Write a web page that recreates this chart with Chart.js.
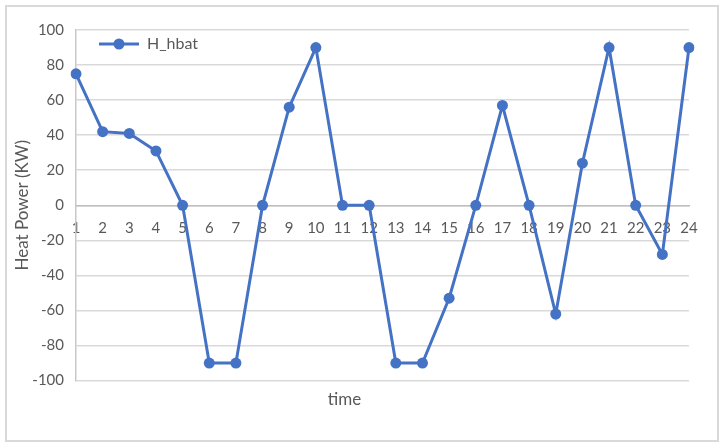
<!DOCTYPE html>
<html>
<head>
<meta charset="utf-8">
<script src="https://cdn.jsdelivr.net/npm/chart.js@4"></script>
<style>
  html, body { margin: 0; padding: 0; background: #fff; }
  #wrap { width: 723px; height: 446px; }
</style>
</head>
<body>
<div id="wrap"><canvas id="myChart" width="723" height="446"></canvas></div>
<script>
const hours = ['1','2','3','4','5','6','7','8','9','10','11','12','13','14','15','16','17','18','19','20','21','22','23','24'];
const hHbat = [75, 42, 41, 31, 0, -90, -90, 0, 56, 90, 0, 0, -90, -90, -53, 0, 57, 0, -62, 24, 90, 0, -28, 90];
const seriesName = 'H_hbat';
const yTitle = 'Heat Power (KW)';
const xTitle = 'time';

const blue = '#4472C4';
const textGray = '#595959';
const fontFam = 'Lato, "Open Sans", sans-serif';

// legend marker: short line with a dot in the middle
const marker = document.createElement('canvas');
marker.width = 40; marker.height = 14;
const m = marker.getContext('2d');
m.strokeStyle = blue; m.lineWidth = 3;
m.beginPath(); m.moveTo(0, 7); m.lineTo(40, 7); m.stroke();
m.fillStyle = blue;
m.beginPath(); m.arc(20, 7, 5.5, 0, Math.PI * 2); m.fill();

// light frame around the whole chart
const frame = {
  id: 'frame',
  beforeDraw(chart) {
    const c = chart.ctx;
    c.save();
    c.strokeStyle = '#d9d9d9';
    c.lineWidth = 2;
    c.strokeRect(6, 6, 712, 435);
    c.restore();
  }
};

// nudge the legend a bit into the plot, like the original
const legendNudge = {
  id: 'legendNudge',
  afterUpdate(chart) {
    const lg = chart.legend;
    if (!lg) return;
    const dx = 11, dy = 24;
    lg.left += dx; lg.right += dx;
    lg.top += dy; lg.bottom += dy;
    (lg.legendHitBoxes || []).forEach(b => { b.left += dx; b.top += dy; });
  }
};

const ctx = document.getElementById('myChart').getContext('2d');
const myChart = new Chart(ctx, {
  type: 'line',
  data: {
    labels: hours,
    datasets: [{
      label: seriesName,
      data: hHbat,
      borderColor: blue,
      backgroundColor: blue,
      borderWidth: 3,
      pointRadius: 5.5,
      pointHoverRadius: 5.5,
      pointBackgroundColor: blue,
      pointBorderWidth: 0,
      pointStyle: 'circle',
      tension: 0
    }]
  },
  options: {
    responsive: false,
    animation: false,
    layout: { padding: { left: 0, right: 34, top: 30, bottom: 0 } },
    scales: {
      x: {
        position: { y: 0 },
        offset: false,
        grid: { display: false, drawTicks: false },
        border: { display: true, color: '#bfbfbf', width: 1.5 },
        ticks: { color: textGray, font: { family: fontFam, size: 15 }, padding: 14, maxRotation: 0, autoSkip: false }
      },
      y: {
        min: -100,
        max: 100,
        ticks: { stepSize: 20, color: textGray, font: { family: fontFam, size: 15 }, padding: 12 },
        grid: { color: '#d9d9d9', lineWidth: 1.5, drawTicks: false },
        border: { display: true, color: '#c8c8c8', width: 1.5 },
        title: { display: true, text: yTitle, color: textGray, font: { family: fontFam, size: 17 }, padding: { top: 12, bottom: 0 } },
        afterFit(scale) { scale.width = 76; }
      }
    },
    plugins: {
      legend: {
        position: 'chartArea',
        align: 'start',
        labels: {
          usePointStyle: true,
          pointStyle: marker,
          pointStyleWidth: 40,
          color: textGray,
          font: { family: fontFam, size: 16 },
          padding: 12
        }
      },
      title: {
        display: true,
        position: 'bottom',
        text: xTitle,
        color: textGray,
        font: { family: fontFam, size: 17, weight: 'normal' },
        padding: { top: 9, bottom: 36 }
      },
      tooltip: { enabled: false }
    }
  },
  plugins: [frame, legendNudge]
});
</script>
</body>
</html>
